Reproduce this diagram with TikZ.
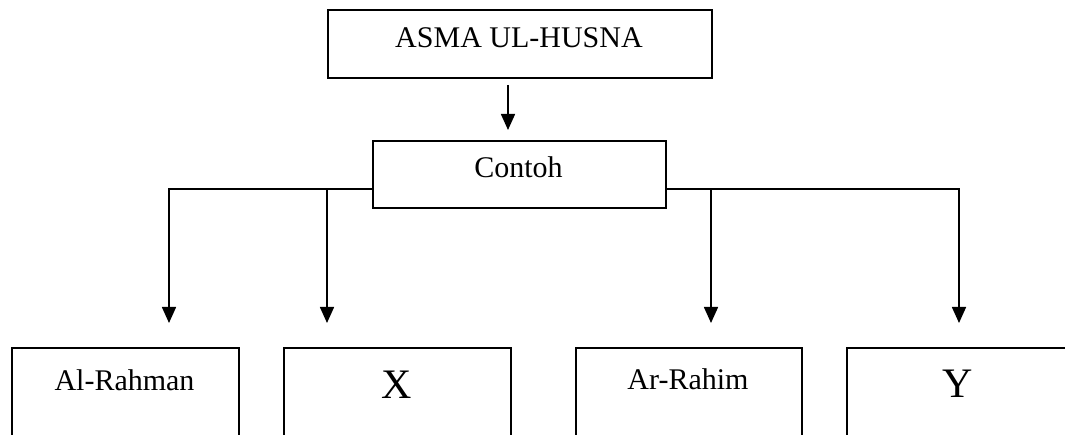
\documentclass[tikz,border=0pt]{standalone}
\usepackage{fontspec}
\setmainfont{Liberation Serif}
\usetikzlibrary{arrows.meta}
\begin{document}
\begin{tikzpicture}[x=1pt,y=-1pt, line width=1.6pt,
  box/.style={draw, line width=1.6pt, inner sep=0pt, anchor=north west},
  arr/.style={-{Triangle[width=14pt,length=16pt]}},
  lbl/.style={font=\fontsize{30}{36}\selectfont, anchor=base, inner sep=0pt},
  big/.style={font=\fontsize{42}{48}\selectfont, anchor=base, inner sep=0pt}]
\clip (0,0) rectangle (1065,435);
% boxes
\node[box, minimum width=384pt, minimum height=68pt] (top) at (327,9) {};
\node[box, minimum width=293pt, minimum height=67pt] (contoh) at (372,140) {};
\node[box, minimum width=227pt, minimum height=120pt] (b1) at (11,347) {};
\node[box, minimum width=227pt, minimum height=120pt] (b2) at (283,347) {};
\node[box, minimum width=226pt, minimum height=120pt] (b3) at (575,347) {};
\node[box, minimum width=260pt, minimum height=120pt] (b4) at (846,347) {};
% texts
\node[lbl] (t0) at (519,48) {ASMA UL-HUSNA};
\node[lbl] (tc) at (518.5,178) {Contoh};
\node[lbl] (t1) at (124.5,390) {Al-Rahman};
\node[big] (t2) at (396.5,398) {X};
\node[lbl] (t3) at (688,389) {Ar-Rahim};
\node[big] (t4) at (958,397) {Y};
% coordinates
\coordinate (s0) at (508,85);
\coordinate (e0) at (508,130);
\coordinate (j1) at (169,189);
\coordinate (j2) at (327,189);
\coordinate (j3) at (711,189);
\coordinate (j4) at (959,189);
\coordinate (e1) at (169,323);
\coordinate (e2) at (327,323);
\coordinate (e3) at (711,323);
\coordinate (e4) at (959,323);
% connectors
\draw[arr] (s0) -- (e0);
\draw[arr] (contoh.west |- j1) -| (e1);
\draw[arr] (j2) -- (e2);
\draw[arr] (contoh.east |- j4) -| (e4);
\draw[arr] (j3) -- (e3);
\end{tikzpicture}
\end{document}
